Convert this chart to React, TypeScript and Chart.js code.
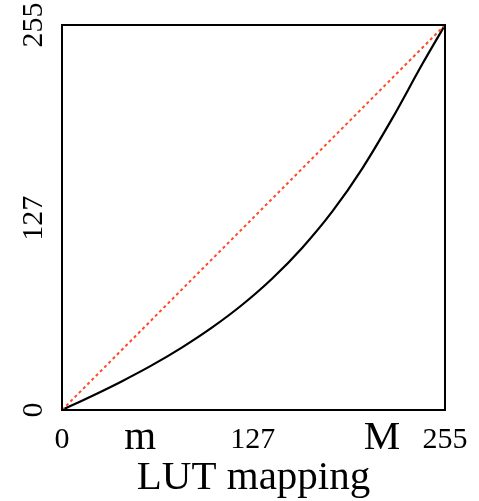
import React, { useEffect, useRef } from "react";
import { Chart, registerables } from "chart.js";

Chart.register(...registerables);

// Input levels (x) and mapped output levels (y) of the LUT curve
const curveX = [0, 20, 40, 60, 80, 100, 120, 140, 160, 180, 200, 220, 240, 255];
const curveY = [0, 9.3, 19.1, 29.7, 41.5, 54.7, 69.7, 87.1, 107.5, 131.5, 160.1, 193.3, 229.3, 255];

// Identity reference line
const identityX = [0, 255];
const identityY = [0, 255];

// Axis ticks
const xTickValues = [0, 52, 127, 213, 255];
const xTickLabels = ["0", "m", "127", "M", "255"];
const yTickValues = [0, 127, 255];
const yTickLabels = ["0", "127", "255"];

const axisTitle = "LUT mapping";

const FONT = "'Liberation Serif', 'Times New Roman', serif";

export default function App() {
  const ref = useRef<HTMLCanvasElement | null>(null);

  useEffect(() => {
    document.body.style.margin = "0";
    const canvas = ref.current;
    if (!canvas) return;

    const boxPlugin = {
      id: "plotBox",
      afterDatasetsDraw(chart: any) {
        const { ctx, chartArea } = chart;
        ctx.save();
        ctx.strokeStyle = "#000";
        ctx.lineWidth = 2;
        ctx.strokeRect(
          chartArea.left,
          chartArea.top,
          chartArea.right - chartArea.left,
          chartArea.bottom - chartArea.top
        );
        ctx.restore();
      },
    };

    const chart = new Chart(canvas, {
      type: "line",
      data: {
        datasets: [
          {
            label: "identity",
            data: identityX.map((x, i) => ({ x, y: identityY[i] })),
            borderColor: "#ff4a26",
            borderWidth: 2,
            borderDash: [3, 3],
            pointRadius: 0,
            fill: false,
          },
          {
            label: "LUT",
            data: curveX.map((x, i) => ({ x, y: curveY[i] })),
            borderColor: "#000",
            borderWidth: 2.2,
            pointRadius: 0,
            cubicInterpolationMode: "monotone",
            fill: false,
          },
        ],
      },
      options: {
        responsive: false,
        animation: false,
        events: [],
        layout: { padding: { left: 0, right: 34, top: 25, bottom: 0 } },
        plugins: {
          legend: { display: false },
          tooltip: { enabled: false },
        },
        scales: {
          x: {
            type: "linear",
            min: 0,
            max: 255,
            grid: { display: false, drawTicks: false },
            border: { display: false },
            afterBuildTicks: (scale: any) => {
              scale.ticks = xTickValues.map((v) => ({ value: v }));
            },
            afterFit: (scale: any) => {
              scale.height = 91;
              scale.paddingLeft = 0;
              scale.paddingRight = 0;
            },
            ticks: {
              autoSkip: false,
              maxRotation: 0,
              minRotation: 0,
              padding: 12,
              color: "#000",
              callback: (_v: any, i: number) => xTickLabels[i],
              font: (ctx: any) => {
                const lbl = xTickLabels[ctx.index];
                if (lbl === "m" || lbl === "M") {
                  return { family: FONT, size: 41, lineHeight: 0.8 };
                }
                return { family: FONT, size: 30, lineHeight: 1.2 };
              },
            },
            title: {
              display: true,
              text: axisTitle,
              color: "#000",
              font: { family: FONT, size: 41, lineHeight: 1.1 },
              padding: { top: 0, bottom: 0 },
            },
          },
          y: {
            type: "linear",
            min: 0,
            max: 255,
            grid: { display: false, drawTicks: false },
            border: { display: false },
            afterBuildTicks: (scale: any) => {
              scale.ticks = yTickValues.map((v) => ({ value: v }));
            },
            afterFit: (scale: any) => {
              scale.width = 62;
              scale.paddingTop = 0;
              scale.paddingBottom = 0;
            },
            ticks: {
              autoSkip: false,
              minRotation: 90,
              maxRotation: 90,
              crossAlign: "center",
              padding: 5,
              color: "#000",
              callback: (_v: any, i: number) => yTickLabels[i],
              font: { family: FONT, size: 30, lineHeight: 1.2 },
            },
          },
        },
      },
      plugins: [boxPlugin],
    } as any);

    return () => chart.destroy();
  }, []);

  return (
    <div style={{ position: "absolute", left: 0, top: 0, width: 479, height: 501 }}>
      <canvas ref={ref} width={479} height={501} style={{ width: 479, height: 501, display: "block" }} />
    </div>
  );
}
